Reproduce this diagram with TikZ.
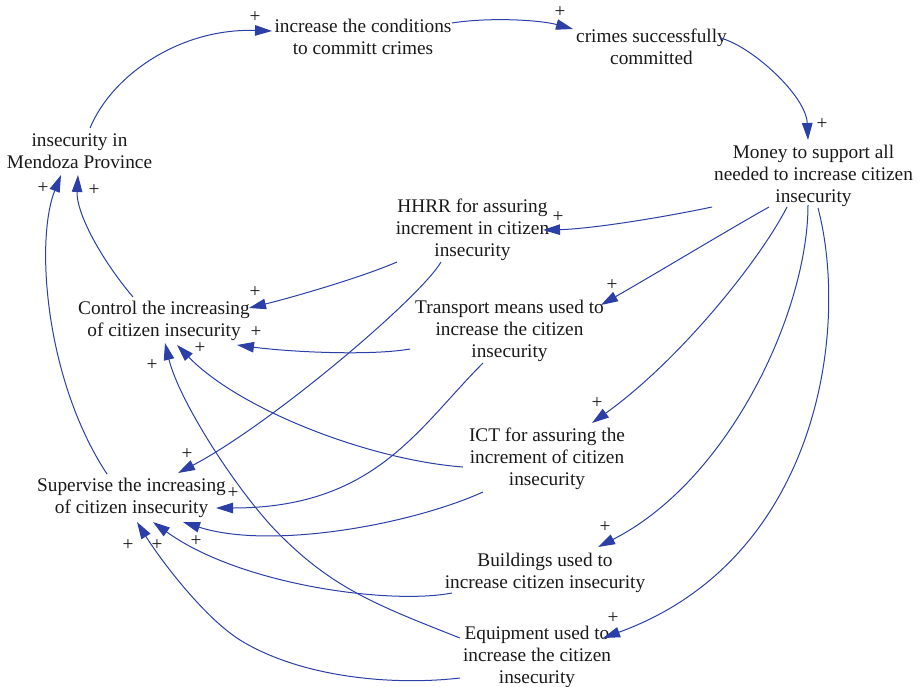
\documentclass[tikz,border=0pt]{standalone}
\usepackage{fontspec}
\setmainfont{Liberation Serif}
\usetikzlibrary{arrows.meta,calc}

\definecolor{linkblue}{RGB}{43,63,166}
\definecolor{labelgray}{RGB}{25,25,25}

\tikzset{
  var/.style={align=center, inner sep=0pt, text=labelgray,
    font=\fontsize{19.3}{22}\selectfont},
  pol/.style={inner sep=0pt, text=labelgray,
    font=\fontsize{19.3}{22}\selectfont},
  link/.style={draw=linkblue, line width=1pt,
    -{Triangle[length=17pt,width=10.5pt]}, fill=none},
}

\begin{document}
\begin{tikzpicture}[x=1pt,y=-1pt]
\useasboundingbox (0,0) rectangle (923,687);

% variables
\node[var] (cond)      at (363,39.5)   {\strut increase the conditions\\to committ crimes\strut};
\node[var] (crimes)    at (651.5,49)   {\strut crimes successfully\\committed\strut};
\node[var] (insec)     at (79.5,153)   {\strut insecurity in\\Mendoza Province\strut};
\node[var] (money)     at (813.5,176)  {\strut Money to support all\\needed to increase citizen\\insecurity\strut};
\node[var] (hhrr)      at (472.5,230)  {\strut HHRR for assuring\\increment in citizen\\insecurity\strut};
\node[var] (transport) at (509.5,331)  {\strut Transport means used to\\increase the citizen\\insecurity\strut};
\node[var] (control)   at (164,321.5)  {\strut Control the increasing\\of citizen insecurity\strut};
\node[var] (ict)       at (547,459)    {\strut ICT for assuring the\\increment of citizen\\insecurity\strut};
\node[var] (supervise) at (131.5,498.5){\strut Supervise the increasing\\of citizen insecurity\strut};
\node[var] (buildings) at (545,573)    {\strut Buildings used to\\increase citizen insecurity\strut};
\node[var] (equipment) at (537,657)    {\strut Equipment used to\\increase the citizen\\insecurity\strut};

% intermediate points of the two long bottom links
\coordinate (eqctl) at (280,535);
\coordinate (eqsup) at (240,640);

% causal links
\draw[link] ($(insec)+(10.5,-25)$) .. controls (112,75) and (180,28) .. ($(cond)+(-91,-8.5)$);
\draw[link] ($(cond)+(89,-16.5)$) .. controls (490,17) and (540,20) .. ($(crimes)+(-78.5,-20)$);
\draw[link] ($(crimes)+(68.5,-11)$) .. controls (750,45) and (806,95) .. ($(money)+(-5.5,-36)$);
\draw[link] ($(money)+(-101.5,31)$) .. controls (660,218) and (590,229) .. ($(hhrr)+(70.5,0)$);
\draw[link] ($(money)+(-44.5,31)$) .. controls (728,230) and (662,270) .. ($(transport)+(91.5,-26)$);
\draw[link] ($(money)+(-26.5,31)$) .. controls (760,260) and (680,360) .. ($(ict)+(45,-36)$);
\draw[link] ($(money)+(-5.5,29)$) .. controls (808,310) and (730,480) .. ($(buildings)+(53,-26)$);
\draw[link] ($(money)+(4.5,32)$) .. controls (850,330) and (818,560) .. ($(equipment)+(66,-19)$);
\draw[link] ($(hhrr)+(-75.5,32)$) .. controls (360,278) and (290,298) .. ($(control)+(85,-13.5)$);
\draw[link] ($(hhrr)+(-31.5,32)$) .. controls (420,298) and (270,425) .. ($(supervise)+(46.5,-25.5)$);
\draw[link] ($(transport)+(-99.5,18)$) .. controls (370,356) and (290,352) .. ($(control)+(73,23.5)$);
\draw[link] ($(transport)+(-26.5,32)$) .. controls (418,428) and (375,508) .. ($(supervise)+(84.5,9.5)$);
\draw[link] ($(ict)+(-84,8)$) .. controls (370,460) and (240,410) .. ($(control)+(13,23.5)$);
\draw[link] ($(ict)+(-64,33)$) .. controls (410,525) and (270,550) .. ($(supervise)+(51.5,23.5)$);
\draw[link] ($(buildings)+(-93,20)$) .. controls (390,605) and (240,585) .. ($(supervise)+(21.5,23.5)$);
\draw[link] ($(equipment)+(-77,-19)$) .. controls (376,605) and (333,588) .. (eqctl)
            .. controls (238,493) and (179,401) .. ($(control)+(1,21.5)$);
\draw[link] ($(equipment)+(-77,21)$) .. controls (391,686) and (300,677) .. (eqsup)
            .. controls (202,616) and (158,556) .. ($(supervise)+(5.5,23.5)$);
\draw[link] ($(supervise)+(-24.5,-24.5)$) .. controls (45,380) and (35,240) .. ($(insec)+(-18.5,22)$);
\draw[link] ($(control)+(-31,-24.5)$) .. controls (100,258) and (76,212) .. ($(insec)+(-1.5,22)$);

% polarity signs
\node[pol] (s1)  at (255,17)  {+};
\node[pol] (s2)  at (560,12)  {+};
\node[pol] (s3)  at (822,124) {+};
\node[pol] (s4)  at (558,217) {+};
\node[pol] (s5)  at (612,285) {+};
\node[pol] (s6)  at (597,403) {+};
\node[pol] (s7)  at (605,527) {+};
\node[pol] (s8)  at (613,618) {+};
\node[pol] (s9)  at (255,292) {+};
\node[pol] (s10) at (187,454) {+};
\node[pol] (s11) at (256,332) {+};
\node[pol] (s12) at (233,493) {+};
\node[pol] (s13) at (200,348) {+};
\node[pol] (s14) at (196,541) {+};
\node[pol] (s15) at (157,545) {+};
\node[pol] (s16) at (152,365) {+};
\node[pol] (s17) at (128,545) {+};
\node[pol] (s18) at (43,188)  {+};
\node[pol] (s19) at (94,190)  {+};
\end{tikzpicture}
\end{document}
